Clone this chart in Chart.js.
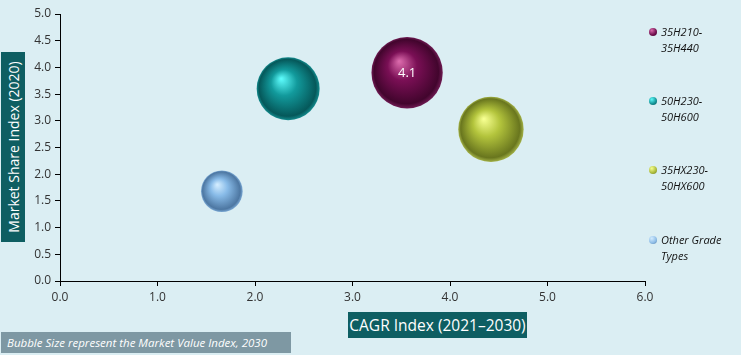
<!DOCTYPE html>
<html>
<head>
<meta charset="utf-8">
<script src="https://cdn.jsdelivr.net/npm/chart.js@4.4.1/dist/chart.umd.min.js"></script>
<style>
  html, body { margin: 0; padding: 0; }
  body { width: 741px; height: 355px; background: #DBEEF3; position: relative; overflow: hidden; font-family: "Open Sans", "DejaVu Sans", sans-serif; }
  #wrap { position: absolute; left: 0; top: 0; width: 741px; height: 355px; }
  .ytitle { position: absolute; left: 1px; top: 52px; width: 24px; height: 190px; background: #0E5E62; }
  .ytitle span { position: absolute; left: 50%; top: 50%; transform: translate(-50%, -50%) rotate(-90deg); white-space: nowrap; color: #fff; font-size: 14px; }
  .xtitle { position: absolute; left: 348px; top: 312px; width: 179px; height: 26px; background: #0E5E62; color: #fff; font-size: 15.5px; line-height: 26px; text-align: center; white-space: nowrap; }
  .note { position: absolute; left: 1px; top: 332px; width: 290px; height: 21px; background: #7E98A3; color: #fff; font-size: 11.5px; font-style: italic; line-height: 21px; padding-left: 6px; box-sizing: border-box; white-space: nowrap; }
  .legend { position: absolute; left: 648px; top: 0; width: 93px; }
  .li { position: absolute; left: 0; width: 93px; font-size: 11px; font-style: italic; color: #111; line-height: 16px; }
  .li i { position: absolute; left: 1px; top: 4px; width: 8px; height: 8px; border-radius: 50%; }
  .li span { display: block; padding-left: 13px; }
</style>
</head>
<body>
<div id="wrap"><canvas id="c" width="741" height="355"></canvas></div>
<div class="ytitle"><span>Market Share Index (2020)</span></div>
<div class="xtitle">CAGR Index (2021–2030)</div>
<div class="note">Bubble Size represent the Market Value Index, 2030</div>
<div class="legend" id="legend"></div>
<script>
const seriesNames = ["35H210-35H440", "50H230-50H600", "35HX230-50HX600", "Other Grade Types"];
const legendLines = [["35H210-", "35H440"], ["50H230-", "50H600"], ["35HX230-", "50HX600"], ["Other Grade", "Types"]];
const cagrIndex = [3.56, 2.34, 4.42, 1.66];
const marketShareIndex = [3.90, 3.60, 2.84, 1.68];
const marketValueIndex = [4.1, 3.2, 3.45, 1.4];
const valueLabels = ["4.1", "", "", ""];
const xTicks = [0, 1, 2, 3, 4, 5, 6];
const yTicks = [0, 0.5, 1, 1.5, 2, 2.5, 3, 3.5, 4, 4.5, 5];

const palette = [
  { hi: "#D968AA", base: "#7A0F55", dark: "#42052D", rim: "#6E1A52", mark: "#6E0E4C" },
  { hi: "#5CFAFA", base: "#129A9C", dark: "#05585A", rim: "#138B8D", mark: "#138F92" },
  { hi: "#F6FF90", base: "#B3C43C", dark: "#69761E", rim: "#A3B247", mark: "#A9B93A" },
  { hi: "#D2ECFF", base: "#88BBE8", dark: "#4D77A2", rim: "#7AA8D4", mark: "#8DBCE6" }
];

const sizeScale = 17.6; // px per sqrt(value)

function sphere(i) {
  return function (ctx) {
    const chart = ctx.chart;
    const raw = ctx.raw;
    if (!raw || !chart.scales || !chart.scales.x || !chart.scales.y) return palette[i].base;
    const cx = chart.scales.x.getPixelForValue(raw.x);
    const cy = chart.scales.y.getPixelForValue(raw.y);
    const r = raw.r;
    if (!isFinite(cx) || !isFinite(cy) || !isFinite(r)) return palette[i].base;
    const g = chart.ctx.createRadialGradient(cx - r * 0.22, cy - r * 0.32, r * 0.02, cx, cy, r);
    g.addColorStop(0, palette[i].hi);
    g.addColorStop(0.4, palette[i].base);
    g.addColorStop(0.9, palette[i].dark);
    g.addColorStop(1, palette[i].rim);
    return g;
  };
}

const datasets = seriesNames.map((name, i) => ({
  label: name,
  data: [{ x: cagrIndex[i], y: marketShareIndex[i], r: sizeScale * Math.sqrt(marketValueIndex[i]) }],
  backgroundColor: sphere(i),
  borderWidth: 0,
  hoverRadius: 0
}));

const labelPlugin = {
  id: "bubbleLabels",
  afterDatasetsDraw(chart) {
    const c = chart.ctx;
    c.save();
    c.fillStyle = "#ffffff";
    c.font = "13px 'Open Sans', sans-serif";
    c.textAlign = "center";
    c.textBaseline = "middle";
    chart.data.datasets.forEach((ds, i) => {
      if (!valueLabels[i]) return;
      const el = chart.getDatasetMeta(i).data[0];
      c.fillText(valueLabels[i], el.x, el.y + 1);
    });
    c.restore();
  }
};

const tickFont = { family: "'Open Sans', sans-serif", size: 12 };

const chart = new Chart(document.getElementById("c"), {
  type: "bubble",
  data: { datasets },
  options: {
    responsive: false,
    animation: false,
    events: [],
    layout: { autoPadding: false, padding: { left: 0, right: 96, top: 14, bottom: 0 } },
    plugins: { legend: { display: false }, tooltip: { enabled: false } },
    scales: {
      x: {
        type: "linear", min: 0, max: 6,
        afterBuildTicks: s => { s.ticks = xTicks.map(v => ({ value: v })); },
        ticks: { callback: v => Number(v).toFixed(1), color: "#333", font: tickFont, padding: 4, maxRotation: 0 },
        grid: { drawOnChartArea: false, drawTicks: true, tickLength: 5, color: "#000" },
        border: { color: "#000", width: 1 },
        afterFit: s => { s.height = 74; }
      },
      y: {
        type: "linear", min: 0, max: 5,
        afterBuildTicks: s => { s.ticks = yTicks.map(v => ({ value: v })); },
        ticks: { callback: v => Number(v).toFixed(1), color: "#333", font: tickFont, padding: 4 },
        grid: { drawOnChartArea: false, drawTicks: true, tickLength: 5, color: "#000" },
        border: { color: "#000", width: 1 },
        afterFit: s => { s.width = 60; }
      }
    }
  },
  plugins: [labelPlugin]
});
chart.update();

const legendTops = [24, 93, 162, 232];
const leg = document.getElementById("legend");
legendLines.forEach((lines, i) => {
  const d = document.createElement("div");
  d.className = "li";
  d.style.top = legendTops[i] + "px";
  d.innerHTML = '<i style="background: radial-gradient(circle at 35% 30%, ' + palette[i].hi + ', ' + palette[i].mark + ' 60%, ' + palette[i].dark + ')"></i><span>' + lines.join("<br>") + "</span>";
  leg.appendChild(d);
});
</script>
</body>
</html>
